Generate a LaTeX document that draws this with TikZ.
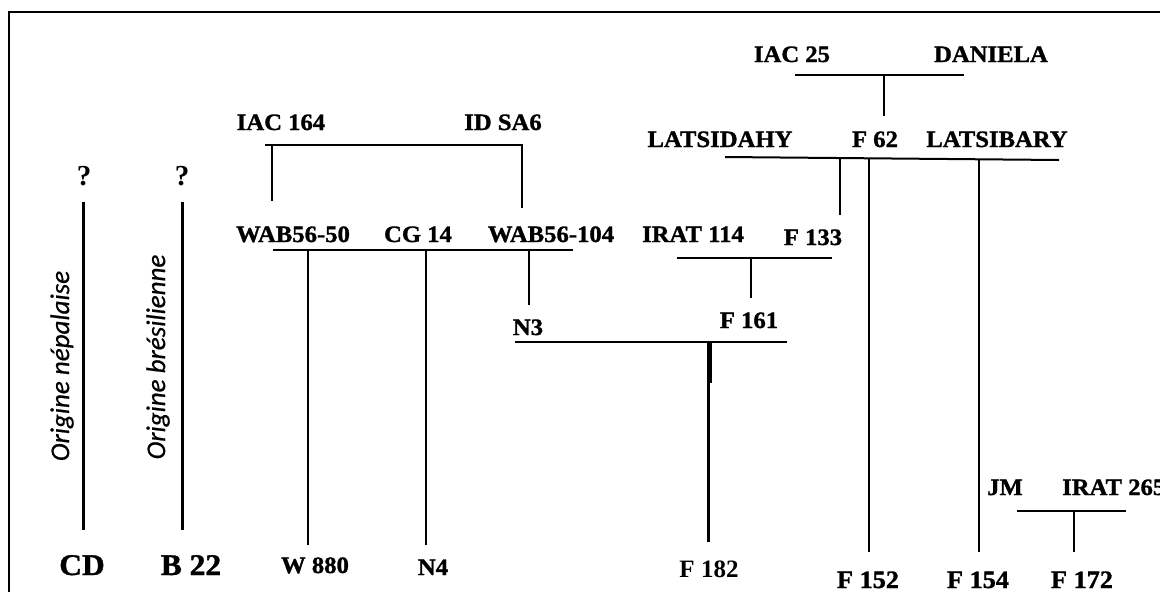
\documentclass[tikz,border=0pt]{standalone}
\usepackage{fontspec}
\setmainfont{Liberation Serif}
\newfontfamily\labf[FakeStretch=1.05,FakeBold=1.2]{Liberation Serif Bold}
\newfontfamily\origf[FakeBold=0.6]{Carlito Italic}
\tikzset{
  lab/.style={font=\labf\fontsize{23.5}{23.5}\selectfont, inner sep=0pt, anchor=base},
  labbig/.style={font=\labf\fontsize{30}{30}\selectfont, inner sep=0pt, anchor=base},
  labbot/.style={font=\labf\fontsize{25}{25}\selectfont, inner sep=0pt, anchor=base},
  qmark/.style={font=\bfseries\fontsize{29}{29}\selectfont, inner sep=0pt, anchor=base},
  orig/.style={font=\origf\fontsize{27}{27}\selectfont, inner sep=0pt, rotate=90},
  ln/.style={line width=2pt},
  lnthick/.style={line width=3pt},
}
\begin{document}
\begin{tikzpicture}[x=1pt,y=-1pt]
\useasboundingbox (0,0) rectangle (1160,592);
% frame
\coordinate (fbl) at (9,592);
\coordinate (ftl) at (9,12);
\coordinate (ftr) at (1160,12);
\draw[line width=2.5pt] (fbl) -- (ftl) -- (ftr);

% top labels
\node[lab] (iac164) at (281,130) {IAC 164};
\node[lab] (idsa6) at (503,130) {ID SA6};
\node[lab] (iac25) at (792,62) {IAC 25};
\node[lab] (daniela) at (991,62) {DANIELA};
\node[lab] (latsidahy) at (720,147) {LATSIDAHY};
\node[lab] (f62) at (875,147) {F 62};
\node[lab] (latsibary) at (997,147) {LATSIBARY};

% question marks
\node[qmark] (q1) at (84,185) {?};
\node[qmark] (q2) at (182,185) {?};

% middle row
\node[lab] (wab50) at (293,242) {WAB56-50};
\node[lab] (cg14) at (418,242) {CG 14};
\node[lab] (wab104) at (551,242) {WAB56-104};
\node[lab] (irat114) at (693,242) {IRAT 114};
\node[lab] (f133) at (813,245) {F 133};
\node[lab] (n3) at (528,335) {N3};
\node[lab] (f161) at (749,328) {F 161};
\node[lab] (jm) at (1005,495) {JM};
\node[lab, anchor=base west] (irat265) at (1062,495) {IRAT 265};

% origin labels
\node[orig] (onep) at (62,366) {Origine népalaise};
\node[orig] (obre) at (158,357) {Origine brésilienne};

% bottom row
\node[labbig] (cd) at (82,575) {CD};
\node[labbig] (b22) at (191,575) {B 22};
\node[lab] (w880) at (315,573) {W 880};
\node[lab] (n4) at (433,575) {N4};
\node[labbot, font=\bfseries\fontsize{25}{25}\selectfont] (f182) at (709,577) {F 182};
\node[labbot] (f152) at (868,588) {F 152};
\node[labbot] (f154) at (978,588) {F 154};
\node[labbot] (f172) at (1082,588) {F 172};

% junction coordinates
\coordinate (a1) at (265,145); \coordinate (a2) at (522,145);
\coordinate (a3) at (272,145); \coordinate (a4) at (272,201);
\coordinate (a5) at (522,208);
\coordinate (r1) at (273,250); \coordinate (r2) at (573,250);
\coordinate (r3) at (308,250); \coordinate (r4) at (308,545);
\coordinate (r5) at (426,250); \coordinate (r6) at (426,545);
\coordinate (r7) at (529,250); \coordinate (r8) at (529,305);
\coordinate (i1) at (677,258); \coordinate (i2) at (832,258);
\coordinate (i3) at (751,258); \coordinate (i4) at (751,298);
\coordinate (n1) at (515,342); \coordinate (n2) at (787,342);
\coordinate (n5) at (708,342); \coordinate (n6) at (708,542);
\coordinate (n7) at (710,343); \coordinate (n8) at (710,383);
\coordinate (d1) at (795,75); \coordinate (d2) at (964,75);
\coordinate (d3) at (884,75); \coordinate (d4) at (884,116);
\coordinate (l1) at (725,157); \coordinate (l2) at (1059,160);
\coordinate (l3) at (840,158); \coordinate (l4) at (840,215);
\coordinate (l5) at (869,158); \coordinate (l6) at (869,552);
\coordinate (l7) at (979,159); \coordinate (l8) at (979,552);
\coordinate (j1) at (1017,511); \coordinate (j2) at (1126,511);
\coordinate (j3) at (1074,511); \coordinate (j4) at (1074,552);
\coordinate (c1) at (83,202); \coordinate (c2) at (83,530);
\coordinate (b1) at (182,202); \coordinate (b2) at (182,530);

\draw[ln] (a1) -- (a2) -- (a5);
\draw[ln] (a3) -- (a4);
\draw[ln] (r1) -- (r2);
\draw[ln] (r3) -- (r4);
\draw[ln] (r5) -- (r6);
\draw[ln] (r7) -- (r8);
\draw[ln] (i1) -- (i2);
\draw[ln] (i3) -- (i4);
\draw[ln] (n1) -- (n2);
\draw[lnthick] (n5) -- (n6);
\draw[line width=4pt] (n7) -- (n8);
\draw[ln] (d1) -- (d2);
\draw[ln] (d3) -- (d4);
\draw[ln] (l1) -- (l2);
\draw[ln] (l3) -- (l4);
\draw[ln] (l5) -- (l6);
\draw[ln] (l7) -- (l8);
\draw[ln] (j1) -- (j2);
\draw[ln] (j3) -- (j4);
\draw[lnthick] (c1) -- (c2);
\draw[lnthick] (b1) -- (b2);
\end{tikzpicture}
\end{document}
